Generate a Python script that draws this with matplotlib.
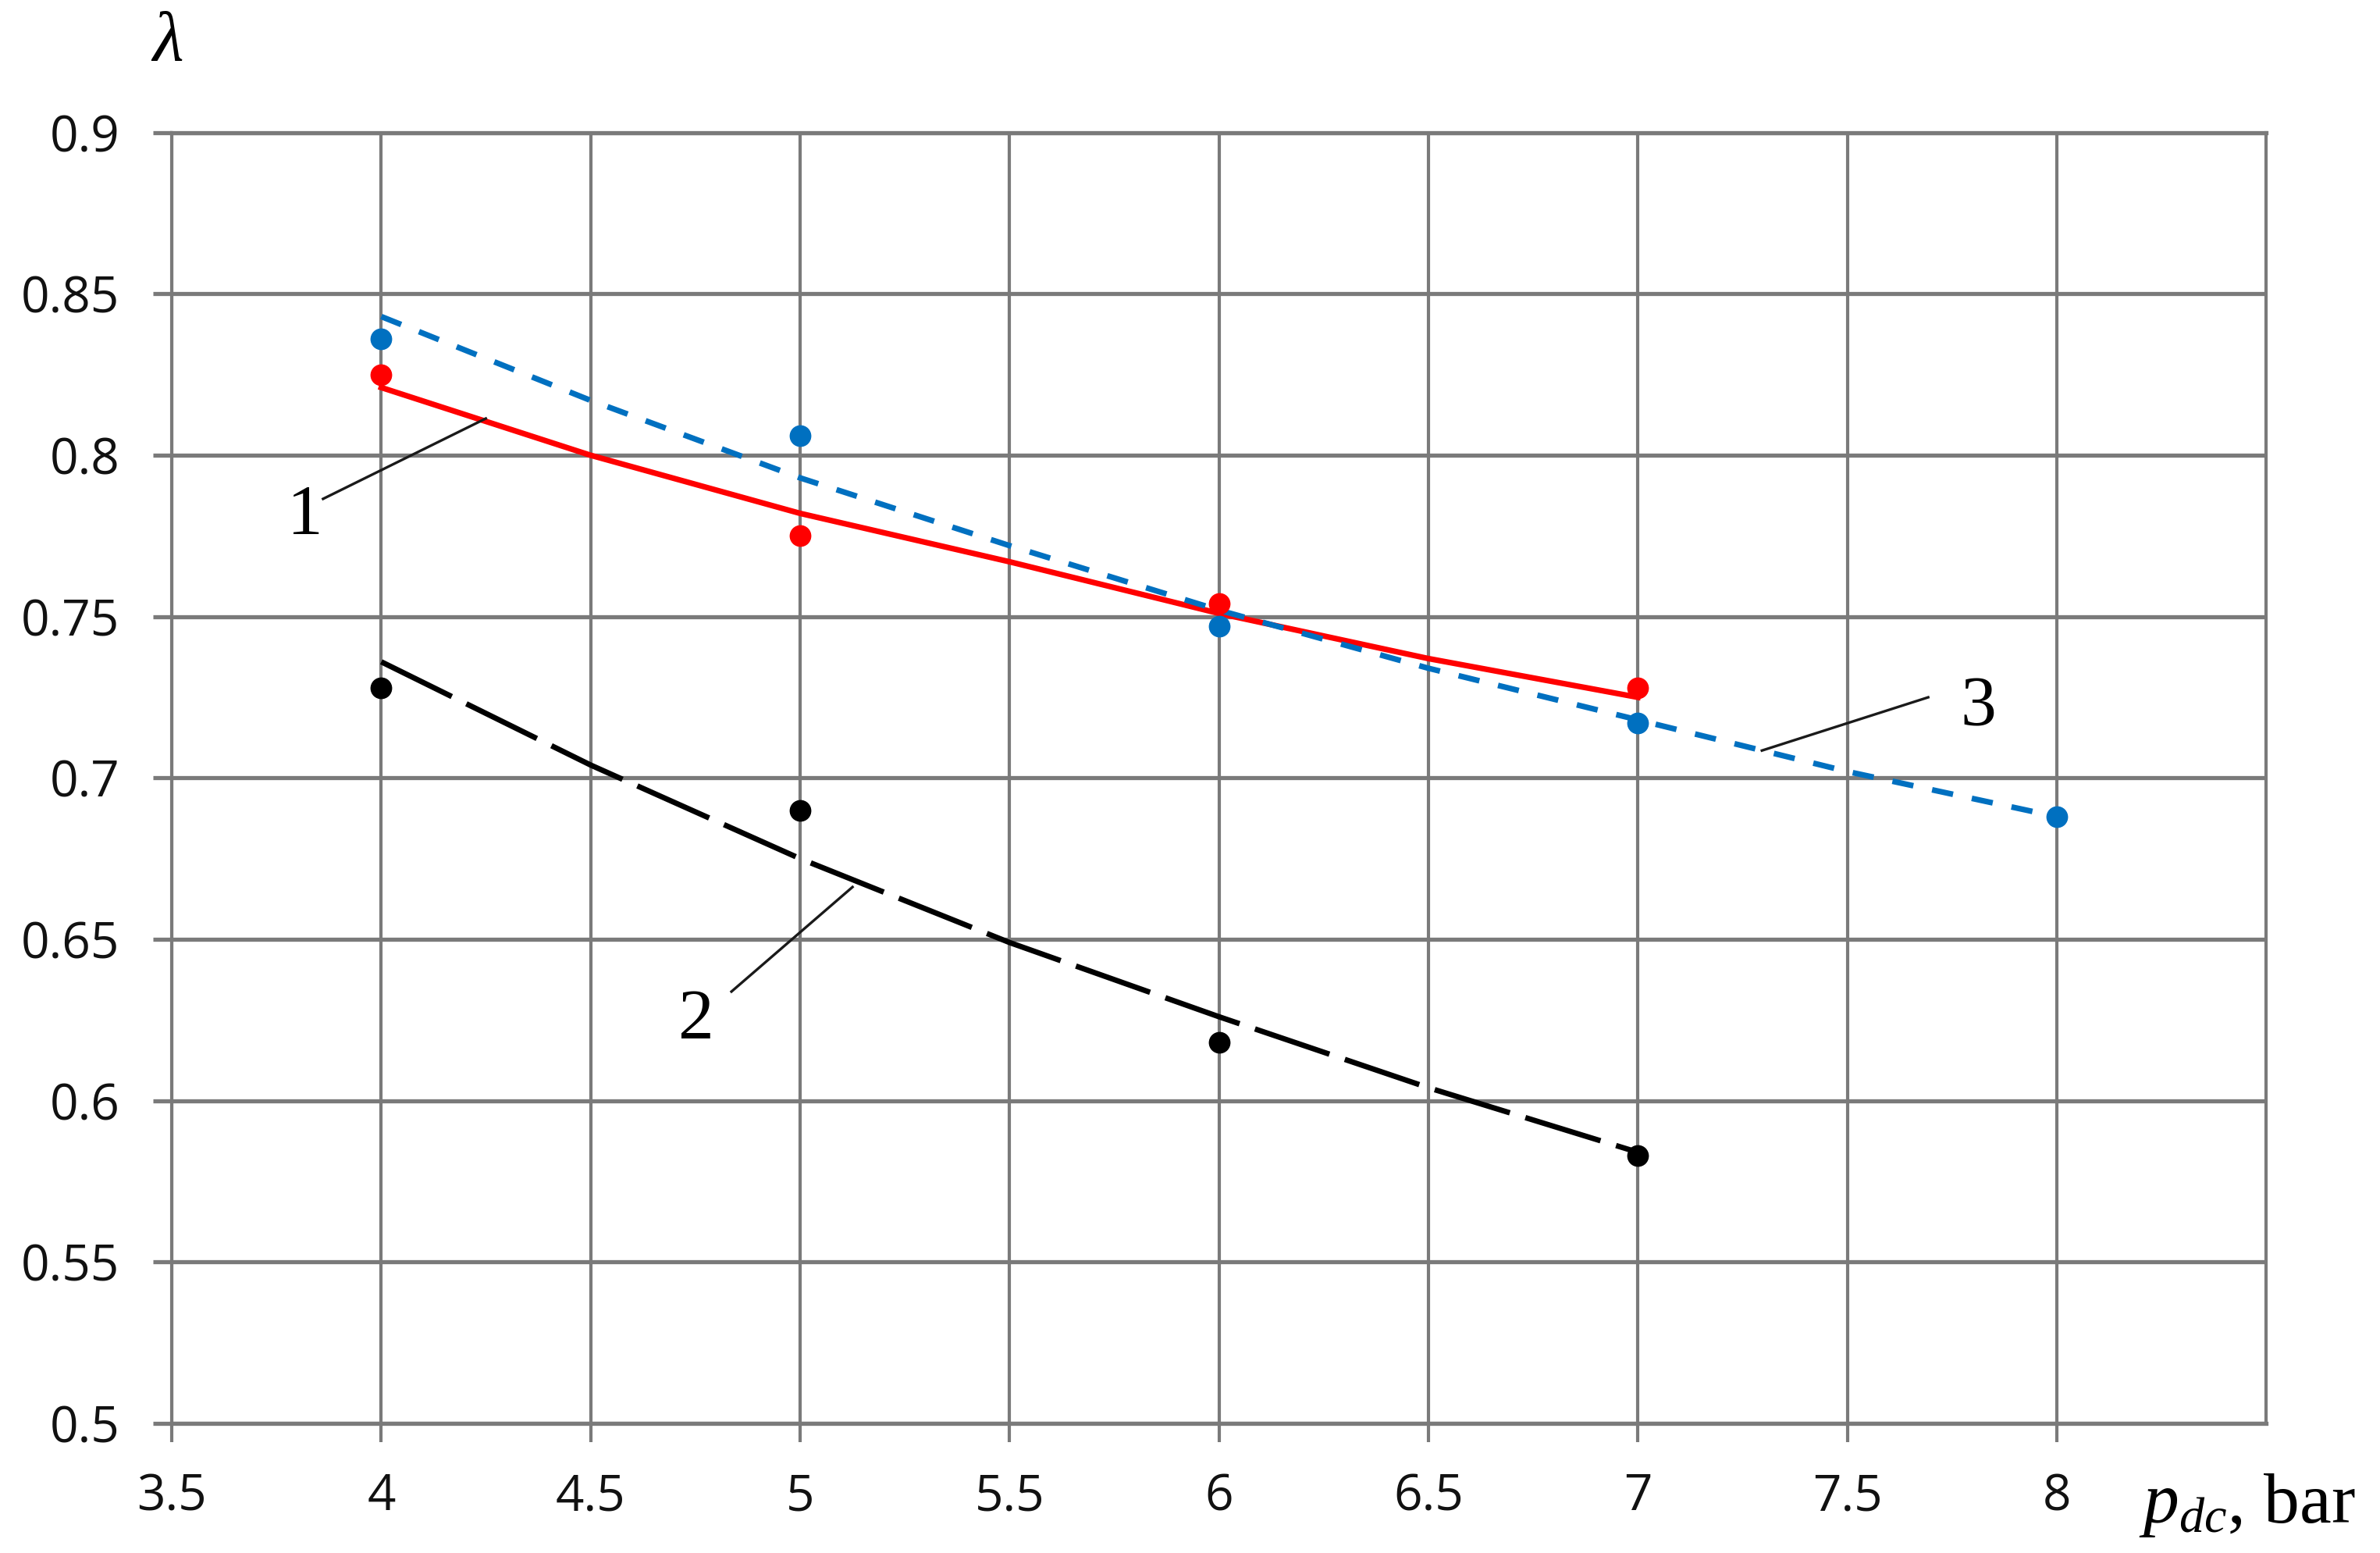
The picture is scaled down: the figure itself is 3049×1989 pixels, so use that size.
import matplotlib
matplotlib.use("Agg")
import matplotlib.pyplot as plt

# measured points
p_pts = [4, 5, 6, 7]
lam_1 = [0.825, 0.775, 0.754, 0.728]
lam_2 = [0.728, 0.690, 0.618, 0.583]
p_pts_3 = [4, 5, 6, 7, 8]
lam_3 = [0.836, 0.806, 0.747, 0.717, 0.688]

# trend lines
p_fit = [4, 4.5, 5, 5.5, 6, 6.5, 7]
fit_1 = [0.821, 0.800, 0.782, 0.767, 0.751, 0.737, 0.725]
fit_2 = [0.736, 0.704, 0.675, 0.649, 0.626, 0.604, 0.584]
p_fit_3 = [4, 4.5, 5, 5.5, 6, 6.5, 7, 7.5, 8]
fit_3 = [0.843, 0.817, 0.793, 0.772, 0.752, 0.734, 0.718, 0.702, 0.688]

x_ticks = [3.5, 4, 4.5, 5, 5.5, 6, 6.5, 7, 7.5, 8]
x_labels = ["3.5", "4", "4.5", "5", "5.5", "6", "6.5", "7", "7.5", "8"]
y_ticks = [0.5, 0.55, 0.6, 0.65, 0.7, 0.75, 0.8, 0.85, 0.9]
y_labels = ["0.5", "0.55", "0.6", "0.65", "0.7", "0.75", "0.8", "0.85", "0.9"]

plt.rcParams["mathtext.fontset"] = "custom"
plt.rcParams["mathtext.rm"] = "Liberation Serif"
plt.rcParams["mathtext.it"] = "Liberation Serif:italic"

grid_col = "#7a7a7a"
fig = plt.figure(figsize=(30.49, 19.89), dpi=100)
ax = fig.add_axes([0.0722, 0.0835, 0.880, 0.8311])

ax.set_xlim(3.5, 8.5)
ax.set_ylim(0.5, 0.9)
ax.set_xticks(x_ticks)
ax.set_xticklabels(x_labels)
ax.set_yticks(y_ticks)
ax.set_yticklabels(y_labels)
for lab in ax.get_xticklabels() + ax.get_yticklabels():
    lab.set_fontfamily("Open Sans")
    lab.set_fontsize(46)
    lab.set_color("#111111")

ax.tick_params(axis="x", direction="out", length=17, width=3.0, color=grid_col, pad=28)
ax.tick_params(axis="y", direction="out", length=17, width=3.8, color=grid_col, pad=31)
ax.grid(True, axis="y", color=grid_col, linewidth=3.8, zorder=0)
ax.grid(True, axis="x", color=grid_col, linewidth=3.0, zorder=0)
ax.set_axisbelow(True)
for side in ["top", "bottom"]:
    ax.spines[side].set_color(grid_col)
    ax.spines[side].set_linewidth(3.8)
for side in ["left", "right"]:
    ax.spines[side].set_color(grid_col)
    ax.spines[side].set_linewidth(3.0)

# trend lines
ax.plot(p_fit, fit_1, color="#ff0000", linewidth=5.2, zorder=3)
ax.plot(p_fit, fit_2, color="black", linewidth=5.0, linestyle=(0, (14.5, 3.0)), zorder=3)
ax.plot(p_fit_3, fit_3, color="#0070c0", linewidth=5.2, linestyle=(0, (3.8, 3.4)), zorder=3)

# points
ax.plot(p_pts_3, lam_3, "o", color="#0070c0", markersize=19, zorder=4)
ax.plot(p_pts, lam_1, "o", color="#ff0000", markersize=19, zorder=4)
ax.plot(p_pts, lam_2, "o", color="black", markersize=19, zorder=4)

# curve labels with leader lines
ax.plot([3.861, 4.2495], [0.7865, 0.8114], color="#1a1a1a", linewidth=2.4, zorder=5)
ax.text(3.818, 0.7757, "1", fontfamily="Liberation Serif", fontsize=66, ha="center", va="baseline")
ax.plot([4.836, 5.125], [0.6338, 0.6662], color="#1a1a1a", linewidth=2.4, zorder=5)
ax.text(4.752, 0.6192, "2", fontfamily="Liberation Serif", fontsize=66, ha="center", va="baseline")
ax.plot([7.296, 7.693], [0.7085, 0.725], color="#1a1a1a", linewidth=2.4, zorder=5)
ax.text(7.812, 0.7161, "3", fontfamily="Liberation Serif", fontsize=66, ha="center", va="baseline")

# axis titles
fig.text(0.0705, 0.972, "λ", fontfamily="Liberation Serif", fontstyle="italic", fontsize=66,
         ha="center", va="center")
fig.text(0.8987, 0.0196, r"$p_{dc}$, bar", fontfamily="Liberation Serif", fontsize=66,
         ha="left", va="baseline")

fig.savefig("out.png", dpi=100, facecolor="white")
